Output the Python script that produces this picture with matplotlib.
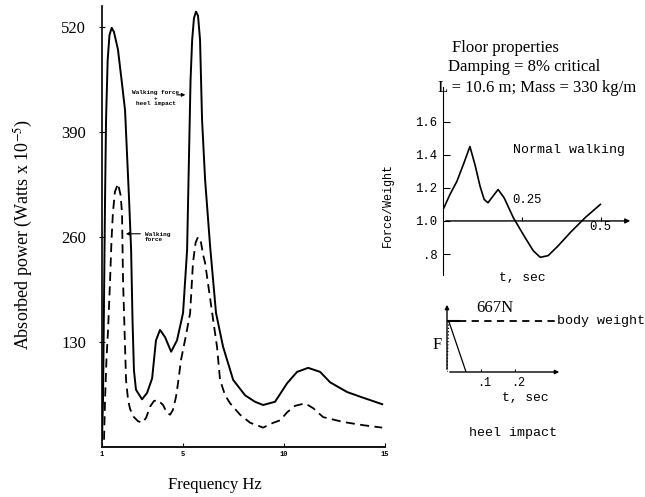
import matplotlib.pyplot as plt

plt.rcParams['font.family'] = 'Liberation Serif'
plt.rcParams['mathtext.fontset'] = 'stix'

MONO = 'Liberation Mono'

# --- main chart: absorbed power vs frequency ---
freq_solid = [1.00, 1.05, 1.10, 1.15, 1.20, 1.28, 1.37, 1.48, 1.59, 1.79, 1.97, 2.14,
              2.34, 2.44, 2.51, 2.58, 2.68, 2.98, 3.23, 3.48, 3.67, 3.87, 4.12, 4.42,
              4.71, 5.01, 5.21, 5.31, 5.38, 5.46, 5.55, 5.65, 5.75, 5.85, 5.95, 6.10,
              6.35, 6.64, 6.99, 7.49, 8.08, 8.57, 8.97, 9.56, 10.16, 10.65, 11.20,
              11.79, 12.29, 13.13, 13.92, 14.86]
power_solid = [9, 58, 182, 306, 405, 479, 510, 519, 514, 492, 454, 417,
               306, 244, 157, 95, 71, 59, 67, 85, 132, 145, 136, 118,
               132, 166, 244, 368, 454, 504, 531, 539, 534, 504, 405, 331,
               248, 166, 124, 83, 64, 56, 52, 56, 79, 93, 98,
               93, 80, 68, 61, 53]

freq_dashed = [1.10, 1.15, 1.22, 1.30, 1.40, 1.47, 1.54, 1.64, 1.79, 1.92, 1.99, 2.04,
               2.14, 2.19, 2.29, 2.39, 2.58, 2.78, 2.98, 3.18, 3.38, 3.57, 3.77, 4.02,
               4.22, 4.37, 4.51, 4.66, 4.76, 4.91, 5.16, 5.36, 5.50, 5.63, 5.75, 5.90,
               6.00, 6.10, 6.45, 6.69, 6.84, 7.09, 7.34, 7.83, 8.33, 8.97, 9.47, 9.81,
               10.16, 10.55, 11.05, 11.45, 11.94, 12.93, 13.92, 14.86]
power_dashed = [9, 58, 108, 145, 207, 256, 290, 316, 326, 312, 290, 207,
                124, 83, 58, 47, 37, 32, 30, 36, 50, 57, 58, 52,
                42, 40, 46, 62, 79, 108, 139, 166, 228, 253, 260, 253,
                238, 228, 166, 124, 83, 64, 54, 40, 30, 24, 30, 33,
                43, 51, 54, 48, 37, 31, 27, 24]

power_ticks = [130, 260, 390, 520]
freq_ticks = [1, 5, 10, 15]

# --- inset: normal walking force ---
walk_t = [0.003, 0.022, 0.044, 0.066, 0.085, 0.101, 0.117, 0.130, 0.142, 0.158, 0.174,
          0.193, 0.222, 0.259, 0.285, 0.307, 0.332, 0.364, 0.402, 0.449, 0.497]
walk_fw = [1.08, 1.16, 1.24, 1.35, 1.45, 1.34, 1.21, 1.13, 1.11, 1.15, 1.19,
           1.14, 1.02, 0.90, 0.82, 0.78, 0.79, 0.85, 0.93, 1.02, 1.10]
walk_yticks = [0.8, 1.0, 1.2, 1.4, 1.6]
walk_ylabels = ['.8', '1.0', '1.2', '1.4', '1.6']
walk_xticks = [0.25, 0.5]

# --- inset: heel impact ---
heel_rise_t = [0.0, 0.005]
heel_fall_t = [0.005, 0.056]
heel_rise_f = [0, 667]
heel_fall_f = [667, 0]
body_weight = 667
heel_xticks = [0.1, 0.2]
heel_xlabels = ['.1', '.2']

fig = plt.figure(figsize=(6.45, 4.97), dpi=100)

# main axes
ax = fig.add_axes([102 / 645, 50 / 497, 283 / 645, 441 / 497])
ax.plot(freq_solid, power_solid, color='black', lw=1.4)
ax.plot(freq_dashed, power_dashed, color='black', lw=1.3, dashes=(5, 3))
ax.set_xlim(1, 15)
ax.set_ylim(0, 546)
ax.spines['top'].set_visible(False)
ax.spines['right'].set_visible(False)
ax.spines['left'].set_linewidth(1.2)
ax.spines['bottom'].set_linewidth(1.3)
ax.set_yticks(power_ticks)
ax.tick_params(axis='y', direction='inout', length=5, pad=9, labelsize=12)
ax.set_xticks(freq_ticks)
ax.set_xticklabels([str(f) for f in freq_ticks], fontsize=5, fontweight='bold', family=MONO)
ax.tick_params(axis='x', direction='in', length=3, pad=3)

ax.text(3.65, 432, 'Walking force\n+\nheel impact', fontsize=4.4, family=MONO,
        ha='center', va='center', multialignment='center', fontweight='bold')
ax.annotate('', xy=(5.26, 436), xytext=(4.56, 436),
            arrowprops=dict(arrowstyle='-|>', lw=0.8, color='black', mutation_scale=5))
ax.text(3.13, 260, 'Walking\nforce', fontsize=4.4, family=MONO, ha='left', va='center',
        fontweight='bold')
ax.annotate('', xy=(2.04, 264), xytext=(3.03, 264),
            arrowprops=dict(arrowstyle='-|>', lw=0.8, color='black', mutation_scale=5))

fig.text(23 / 645, 1 - 234 / 497, 'Absorbed power (Watts x 10$^{-5}$)', rotation=90,
         ha='center', va='center', fontsize=13)
fig.text(215 / 645, 1 - 485 / 497, 'Frequency Hz', ha='center', va='center', fontsize=12)

# floor properties text
fig.text(505 / 645, 1 - 48 / 497, 'Floor properties', ha='center', va='center', fontsize=12)
fig.text(524 / 645, 1 - 67 / 497, 'Damping = 8% critical', ha='center', va='center', fontsize=12)
fig.text(537 / 645, 1 - 88 / 497, 'L = 10.6 m; Mass = 330 kg/m', ha='center', va='center', fontsize=12)

# normal walking inset
ax2 = fig.add_axes([443 / 645, (497 - 275) / 497, 190 / 645, 188 / 497])
ax2.patch.set_visible(False)
for s in ['top', 'right', 'bottom']:
    ax2.spines[s].set_visible(False)
ax2.set_xlim(0, 0.60)
ax2.set_ylim(0.673, 1.81)
ax2.plot(walk_t, walk_fw, color='black', lw=1.2)
ax2.annotate('', xy=(0.60, 1.0), xytext=(0, 1.0),
             arrowprops=dict(arrowstyle='-|>', lw=1.0, color='black', mutation_scale=7))
ax2.vlines(walk_xticks, 1.0, 1.025, color='black', lw=0.8)
ax2.set_xticks([])
ax2.set_yticks(walk_yticks)
ax2.set_yticklabels(walk_ylabels, family=MONO, fontsize=8.8)
ax2.tick_params(axis='y', direction='in', length=5, pad=4)
ax2.text(0.266, 1.127, '0.25', family=MONO, fontsize=8.8, ha='center', va='center')
ax2.text(0.497, 0.964, '0.5', family=MONO, fontsize=8.8, ha='center', va='center')
ax2.text(0.222, 1.43, 'Normal walking', family=MONO, fontsize=9.5, ha='left', va='center')
fig.text(388 / 645, 1 - 205 / 497, 'Force/Weight', rotation=90, family=MONO, fontsize=8.5,
         ha='center', va='center')
fig.text(522 / 645, 1 - 278 / 497, 't, sec', family=MONO, fontsize=9.4, ha='center', va='center')

# heel impact inset
ax3 = fig.add_axes([447 / 645, 125 / 497, 115 / 645, 70 / 497])
ax3.set_xlim(0, 0.338)
ax3.set_ylim(0, 915)
ax3.axis('off')
ax3.annotate('', xy=(0.338, 0), xytext=(0, 0),
             arrowprops=dict(arrowstyle='-|>', lw=1.0, color='black', mutation_scale=6))
ax3.annotate('', xy=(0, 915), xytext=(0, 0),
             arrowprops=dict(arrowstyle='-|>', lw=1.0, color='black', mutation_scale=6))
ax3.plot(heel_rise_t, heel_rise_f, color='black', lw=0.9, ls=':')
ax3.plot(heel_fall_t, heel_fall_f, color='black', lw=0.9)
ax3.plot([0, 0.035], [body_weight, body_weight], color='black', lw=1.5)
ax3.plot([0.035, 0.318], [body_weight, body_weight], color='black', lw=1.3, dashes=(4, 3))
ax3.vlines(heel_xticks, -40, 40, color='black', lw=0.8)
for t, lab in zip(heel_xticks, heel_xlabels):
    ax3.text(t + 0.008, -60, lab, family=MONO, fontsize=8.5, ha='center', va='top')
ax3.text(0.141, 837, '667N', fontsize=12, ha='center', va='center')
ax3.text(-0.029, 353, 'F', fontsize=12, ha='center', va='center')
ax3.text(0.324, body_weight, 'body weight', family=MONO, fontsize=9.6, ha='left', va='center')
fig.text(525 / 645, 1 - 398 / 497, 't, sec', family=MONO, fontsize=9.4, ha='center', va='center')
fig.text(513 / 645, 1 - 433 / 497, 'heel impact', family=MONO, fontsize=9.6, ha='center', va='center')

fig.savefig('out.png', dpi=100)
